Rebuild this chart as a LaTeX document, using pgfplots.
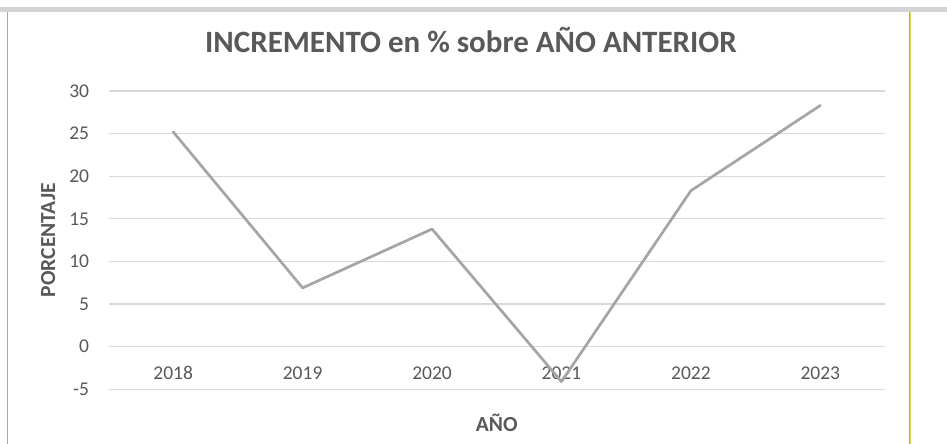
\documentclass[border=0pt]{standalone}
\usepackage{pgfplots}
\pgfplotsset{compat=1.18}
\usepackage{fontspec}
\setmainfont{Carlito}
\definecolor{txt}{HTML}{595959}
\definecolor{gridc}{HTML}{D9D9D9}
\definecolor{ln}{HTML}{A5A5A5}
\definecolor{band}{HTML}{D4D4D4}
\definecolor{framec}{HTML}{A6A6A6}
\definecolor{yel}{HTML}{E8E800}
\begin{document}
\begin{tikzpicture}[x=1bp,y=1bp]
\useasboundingbox (0,0) rectangle (947,444);
\fill[white] (0,0) rectangle (947,444);
\fill[band] (0,432) rectangle (947,437);
\draw[framec, line width=1.5bp] (7.3,0) -- (7.3,432);
\draw[framec, line width=1.3bp] (909.3,0) -- (909.3,432);
\draw[yel, line width=1.2bp] (910.6,0) -- (910.6,432);
\begin{axis}[
  at={(108.5bp,54.7bp)}, anchor=south west,
  scale only axis, width=776.5bp, height=298.3bp,
  xmin=-0.5, xmax=5.5, ymin=-5, ymax=30,
  xtick={0,...,5}, xticklabels={2018,2019,2020,2021,2022,2023},
  ytick={-5,0,...,30},
  axis line style={draw=none},
  tick style={draw=none},
  major tick length=0pt,
  xmajorgrids=false, ymajorgrids=true,
  major grid style={draw=gridc, line width=1.3bp},
  /pgf/number format/assume math mode=true,
  tick label style={font=\fontsize{19.5bp}{23bp}\selectfont, text=txt},
  yticklabel style={anchor=east, inner sep=0pt, xshift=-19.2bp},
  xticklabel style={anchor=base, inner sep=0pt, yshift=9.3bp},
  xlabel={AÑO}, ylabel={PORCENTAJE},
  label style={font=\bfseries\fontsize{21.5bp}{25bp}\selectfont, text=txt},
  xlabel style={at={(axis description cs:0.5,-0.143)}, anchor=base, inner sep=0pt},
  ylabel style={at={(axis description cs:-0.0689,0.5)}, anchor=base, inner sep=0pt},
  clip=false,
]
\addplot[ln, line width=2.7bp, line join=round, line cap=round] coordinates {
  (0,25.2) (1,6.9) (2,13.8) (3,-4.1) (4,18.3) (5,28.3)
};
\end{axis}
\node[anchor=base, text=txt, font=\bfseries\fontsize{31bp}{36bp}\selectfont, inner sep=0pt] at (471,391.7) {INCREMENTO en \% sobre AÑO ANTERIOR};
\end{tikzpicture}
\end{document}
